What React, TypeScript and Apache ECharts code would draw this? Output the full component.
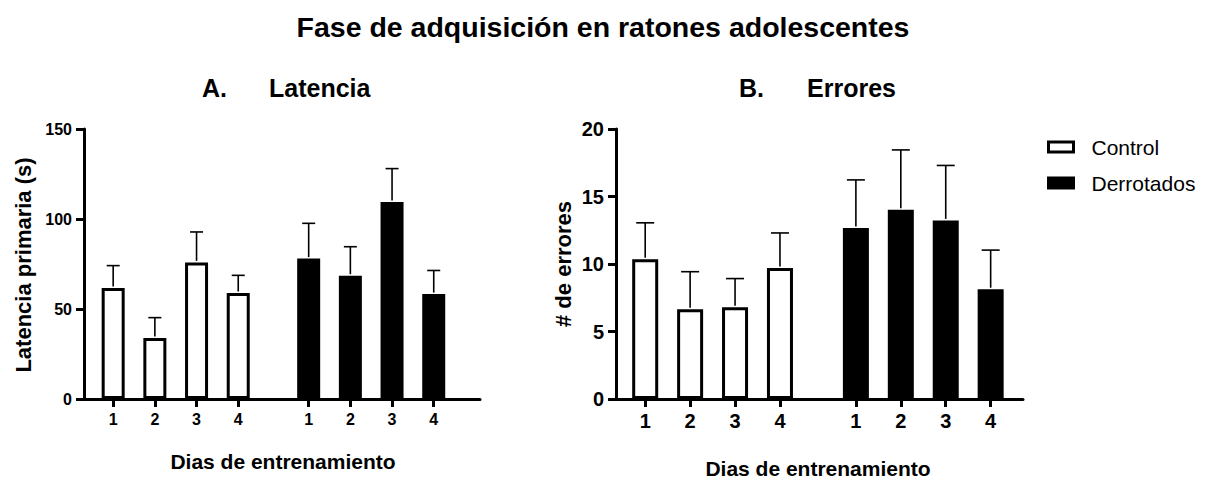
import React, { useEffect, useRef } from "react";
import * as echarts from "echarts";

const FONT = '"Liberation Sans", Arial, Helvetica, sans-serif';

// ---- data ----
const days = ["1", "2", "3", "4"];
const groups = ["Control", "Derrotados"];

const latenciaControl = [61.7, 33.9, 75.9, 58.9];
const latenciaControlSem = [12.4, 11.3, 16.9, 9.8];
const latenciaDerrotados = [78.0, 68.5, 109.4, 58.3];
const latenciaDerrotadosSem = [19.6, 16.1, 18.6, 13.1];

const erroresControl = [10.35, 6.65, 6.8, 9.7];
const erroresControlSem = [2.7, 2.78, 2.12, 2.6];
const erroresDerrotados = [12.66, 14.01, 13.23, 8.13];
const erroresDerrotadosSem = [3.57, 4.44, 4.07, 2.9];

const latenciaTicks = [0, 50, 100, 150];
const erroresTicks = [0, 5, 10, 15, 20];

// ---- layout helpers ----
const GROUP_OFFSET = 4.69; // distance (in day units) between first Control day and first Derrotados day
const pos = (g: number, i: number) => i + 1 + g * GROUP_OFFSET;
const allPositions = [0, 1].flatMap((g) => days.map((_, i) => pos(g, i)));
const labelFor = (v: number) => {
  const g = v > 4.5 ? 1 : 0;
  const idx = Math.round(v - g * GROUP_OFFSET) - 1;
  return days[idx] ?? "";
};

export default function App() {
  const ref = useRef<HTMLDivElement>(null);

  useEffect(() => {
    if (!ref.current) return;
    const chart = echarts.init(ref.current, null, { renderer: "svg" });

    const panels = [
      {
        control: latenciaControl,
        controlSem: latenciaControlSem,
        derr: latenciaDerrotados,
        derrSem: latenciaDerrotadosSem,
        ticks: latenciaTicks,
        barWidth: 23,
        capHalf: 6.5,
        labelSize: 16,
      },
      {
        control: erroresControl,
        controlSem: erroresControlSem,
        derr: erroresDerrotados,
        derrSem: erroresDerrotadosSem,
        ticks: erroresTicks,
        barWidth: 26,
        capHalf: 9,
        labelSize: 20,
      },
    ];

    const grids = [
      { left: 84, top: 129, width: 396, height: 270 },
      { left: 616, top: 129, width: 407, height: 270 },
    ];
    const xRanges = [
      { min: 0.3, max: 9.8 },
      { min: 0.35, max: 9.41 },
    ];

    const xAxis = panels.map((p, k) => ({
      type: "value",
      gridIndex: k,
      min: xRanges[k].min,
      max: xRanges[k].max,
      splitLine: { show: false },
      axisLine: { show: true, onZero: false, lineStyle: { color: "#000", width: 3 } },
      axisTick: {
        show: true,
        customValues: allPositions,
        length: 8,
        lineStyle: { color: "#000", width: 3 },
      },
      axisLabel: {
        customValues: allPositions,
        formatter: (v: number) => labelFor(v),
        color: "#000",
        fontFamily: FONT,
        fontWeight: "bold",
        fontSize: p.labelSize,
        margin: 12,
      },
    }));

    const yAxis = panels.map((p, k) => ({
      type: "value",
      gridIndex: k,
      min: p.ticks[0],
      max: p.ticks[p.ticks.length - 1],
      interval: p.ticks[1] - p.ticks[0],
      splitLine: { show: false },
      axisLine: { show: true, lineStyle: { color: "#000", width: 3 } },
      axisTick: { show: true, length: 8, lineStyle: { color: "#000", width: 3 } },
      axisLabel: {
        color: "#000",
        fontFamily: FONT,
        fontWeight: "bold",
        fontSize: p.labelSize,
        margin: 12,
      },
    }));

    const series: any[] = [];
    panels.forEach((p, k) => {
      const vals = [p.control, p.derr];
      const sems = [p.controlSem, p.derrSem];
      groups.forEach((name, g) => {
        series.push({
          name,
          type: "bar",
          xAxisIndex: k,
          yAxisIndex: k,
          barWidth: p.barWidth,
          barGap: "-100%",
          itemStyle: {
            color: g === 0 ? "#fff" : "#000",
            borderColor: "#000",
            borderWidth: 3,
          },
          data: vals[g].map((v, i) => [pos(g, i), v]),
          z: 2,
        });
      });
      series.push({
        type: "custom",
        xAxisIndex: k,
        yAxisIndex: k,
        z: 3,
        silent: true,
        data: [0, 1].flatMap((g) => vals[g].map((v, i) => [pos(g, i), v, sems[g][i]])),
        encode: { x: 0, y: 1 },
        renderItem: (params: any, api: any) => {
          const x = api.value(0);
          const y = api.value(1);
          const e = api.value(2);
          const p0 = api.coord([x, y]);
          const p1 = api.coord([x, y + e]);
          const st = { stroke: "#000", lineWidth: 1.6 };
          return {
            type: "group",
            children: [
              { type: "line", shape: { x1: p0[0], y1: p0[1] - 1.5, x2: p1[0], y2: p1[1] }, style: st },
              {
                type: "line",
                shape: { x1: p1[0] - p.capHalf, y1: p1[1], x2: p1[0] + p.capHalf, y2: p1[1] },
                style: st,
              },
            ],
          };
        },
      });
    });

    const boldText = (text: string, x: number, y: number, size: number, align = "left", rotation = 0) => ({
      type: "text",
      x,
      y,
      rotation,
      style: {
        text,
        fill: "#000",
        font: `bold ${size}px ${FONT}`,
        textAlign: align,
        textVerticalAlign: "middle",
      },
    });

    chart.setOption({
      animation: false,
      backgroundColor: "#fff",
      grid: grids,
      xAxis,
      yAxis,
      series,
      legend: {
        orient: "vertical",
        left: 1042,
        top: 130,
        itemWidth: 25,
        itemHeight: 10,
        itemGap: 12,
        selectedMode: false,
        textStyle: {
          fontFamily: FONT,
          fontSize: 21,
          color: "#000",
          lineHeight: 24,
          padding: [0, 0, 0, 13],
        },
        data: [
          { name: "Control", icon: "rect", itemStyle: { color: "#fff", borderColor: "#000", borderWidth: 3 } },
          { name: "Derrotados", icon: "rect", itemStyle: { color: "#000", borderColor: "#000", borderWidth: 3 } },
        ],
      },
      graphic: [
        boldText("Fase de adquisición en ratones adolescentes", 603, 27, 28.5, "center"),
        boldText("A.", 202, 88, 25),
        boldText("Latencia", 269, 88, 25),
        boldText("B.", 739, 88, 25),
        boldText("Errores", 807, 88, 25),
        boldText("Latencia primaria (s)", 23, 265, 22, "center", Math.PI / 2),
        boldText("# de errores", 563, 264, 22, "center", Math.PI / 2),
        boldText("Dias de entrenamiento", 283, 461, 21, "center"),
        boldText("Dias de entrenamiento", 818, 468, 21, "center"),
      ],
    });

    return () => chart.dispose();
  }, []);

  return (
    <div
      ref={ref}
      style={{ position: "fixed", left: 0, top: 0, width: 1209, height: 481, background: "#fff" }}
    />
  );
}
